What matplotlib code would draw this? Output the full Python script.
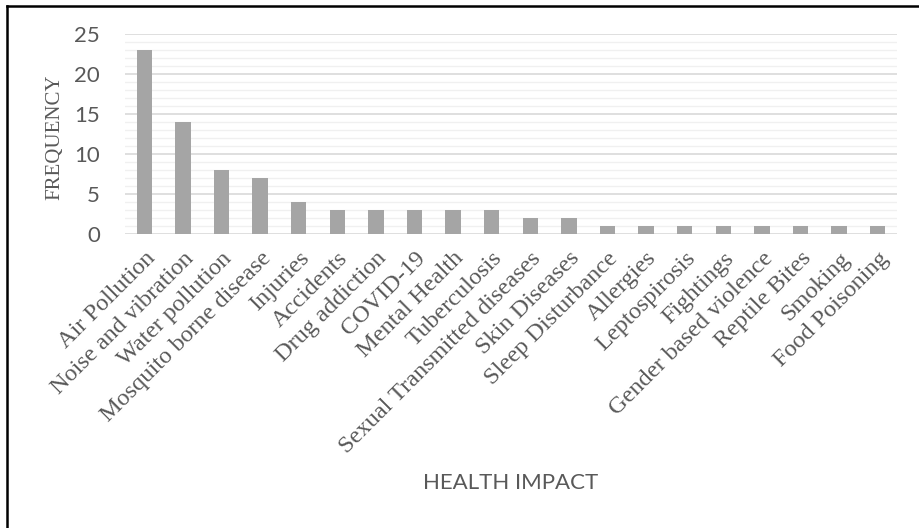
import matplotlib
matplotlib.use("Agg")
import matplotlib.pyplot as plt
from matplotlib.lines import Line2D
from matplotlib.ticker import MultipleLocator
import numpy as np

categories = ["Air Pollution", "Noise and vibration", "Water pollution",
              "Mosquito borne disease", "Injuries", "Accidents",
              "Drug addiction", "COVID-19", "Mental Health", "Tuberculosis",
              "Sexual Transmitted diseases", "Skin Diseases",
              "Sleep Disturbance", "Allergies", "Leptospirosis", "Fightings",
              "Gender based violence", "Reptile Bites", "Smoking",
              "Food Poisoning"]
frequency = [23, 14, 8, 7, 4, 3, 3, 3, 3, 3, 2, 2, 1, 1, 1, 1, 1, 1, 1, 1]
y_ticks = [0, 5, 10, 15, 20, 25]

W, H = 920, 528
fig = plt.figure(figsize=(W / 100, H / 100), dpi=100)
ax = fig.add_axes([125 / W, 1 - 234 / H, (897 - 125) / W, 200 / H])

x = np.arange(len(categories))
ax.bar(x, frequency, width=0.4, color="#a5a5a5", zorder=3)

ax.set_xlim(-0.5, len(categories) - 0.5)
ax.set_ylim(0, 25)
ax.set_yticks(y_ticks)
ax.yaxis.set_minor_locator(MultipleLocator(1))
ax.grid(axis="y", which="major", color="#d9d9d9", linewidth=1.2, zorder=0)
ax.grid(axis="y", which="minor", color="#f0f0f0", linewidth=1.0, zorder=0)
for s in ax.spines.values():
    s.set_visible(False)
ax.tick_params(axis="both", which="both", length=0)
ax.tick_params(axis="y", pad=18, labelsize=16, labelcolor="#595959")
for t in ax.get_yticklabels():
    t.set_family(["Lato", "DejaVu Sans"])

ax.set_xticks(x)
ax.set_xticklabels(categories, rotation=45, ha="right", va="top",
                   rotation_mode="anchor", fontsize=17.5,
                   family="Liberation Serif", color="#595959")
ax.tick_params(axis="x", pad=10)

fig.text(55 / W, 1 - 137 / H, "FREQUENCY", rotation=90, ha="center",
         va="center", fontsize=15, family="Liberation Serif", color="#595959")
fig.text(511 / W, 1 - 483 / H, "HEALTH IMPACT", ha="center", va="center",
         fontsize=16, family=["Lato", "DejaVu Sans"], color="#595959")

# outer frame (left and top edges only are visible)
fig.add_artist(Line2D([7 / W, 7 / W], [0, 1 - 6 / H], color="black", lw=1.8))
fig.add_artist(Line2D([7 / W, 1], [1 - 6 / H, 1 - 6 / H], color="black", lw=1.8))

fig.savefig("out.png", dpi=100)
